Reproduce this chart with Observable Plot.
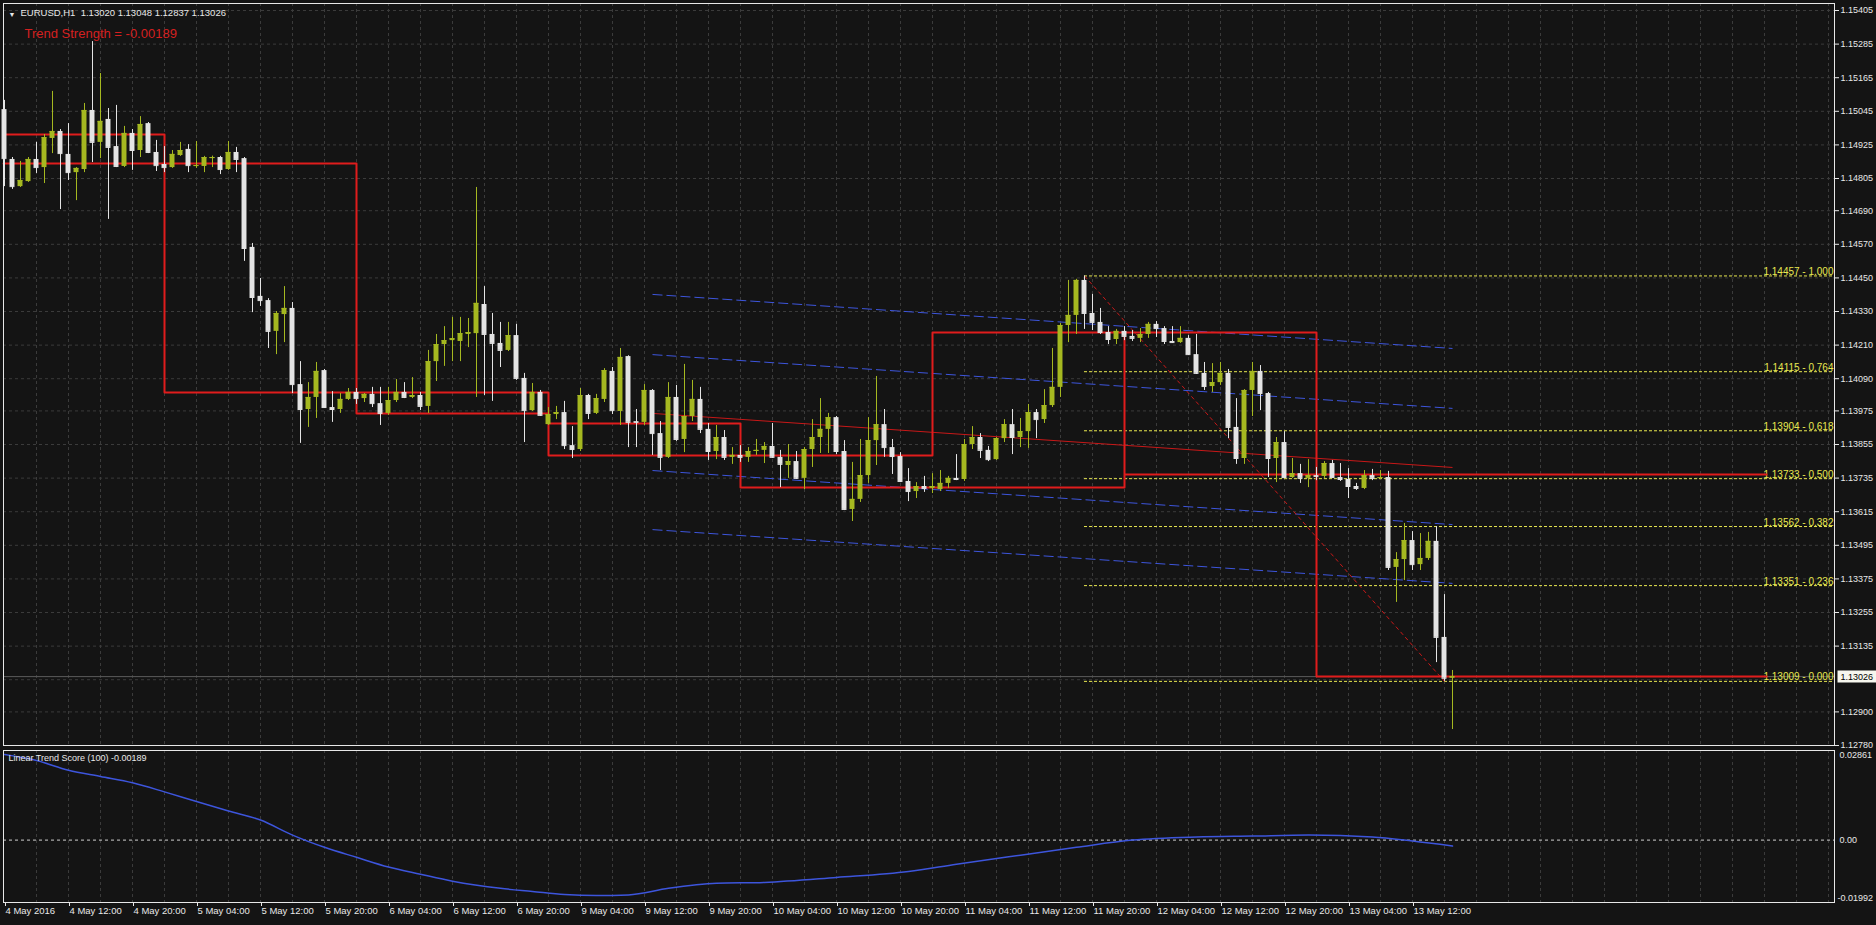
<!DOCTYPE html>
<html><head><meta charset="utf-8">
<script src="https://cdn.jsdelivr.net/npm/d3@7"></script>
<script src="https://cdn.jsdelivr.net/npm/@observablehq/plot@0.6"></script>
<style>
html,body{margin:0;padding:0;background:#141414;}
#wrap{position:relative;width:1876px;height:925px;overflow:hidden;background:#141414;}
#wrap svg{position:absolute;left:0;}
</style></head><body><div id="wrap"></div>
<script>
// ---- candle data (EURUSD H1, bar 0 = 4 May 2016 04:00) ----
const opens=[1.15051,1.14873,1.14776,1.14794,1.14873,1.14844,1.14948,1.14973,1.14891,1.14826,
1.14837,1.15048,1.14934,1.15016,1.14919,1.14848,1.14966,1.14905,1.15001,1.14898,
1.14855,1.14844,1.14887,1.14909,1.14848,1.14848,1.14876,1.14880,1.14837,1.14898,
1.14876,1.14559,1.14384,1.14369,1.14259,1.14319,1.14341,1.14069,1.13980,1.14023,
1.14119,1.13987,1.13980,1.14016,1.14041,1.14019,1.14034,1.14001,1.13966,1.14012,
1.14041,1.14023,1.14030,1.13991,1.14151,1.14212,1.14226,1.14223,1.14248,1.14251,
1.14355,1.14248,1.14216,1.14191,1.14244,1.14091,1.13976,1.14041,1.13926,1.13962,
1.13969,1.13851,1.13837,1.14030,1.13966,1.14016,1.14116,1.13973,1.14169,1.13937,
1.13934,1.14048,1.13894,1.13809,1.14023,1.13873,1.13955,1.14016,1.13909,1.13830,
1.13880,1.13809,1.13816,1.13809,1.13830,1.13834,1.13848,1.13809,1.13780,1.13794,
1.13734,1.13837,1.13880,1.13909,1.13951,1.13830,1.13623,1.13659,1.13744,1.13869,
1.13926,1.13844,1.13812,1.13723,1.13687,1.13705,1.13698,1.13694,1.13716,1.13734,
1.13730,1.13855,1.13880,1.13834,1.13801,1.13876,1.13926,1.13880,1.13901,1.13969,
1.13944,1.13994,1.14059,1.14280,1.14316,1.14441,1.14323,1.14291,1.14255,1.14230,
1.14259,1.14241,1.14234,1.14248,1.14284,1.14269,1.14223,1.14219,1.14234,1.14176,
1.14109,1.14062,1.14076,1.14109,1.13916,1.13805,1.14048,1.14116,1.14037,1.13805,
1.13862,1.13737,1.13751,1.13734,1.13744,1.13741,1.13787,1.13737,1.13730,1.13705,
1.13698,1.13744,1.13734,1.13737,1.13416,1.13444,1.13512,1.13426,1.13448,1.13509,
1.13166,1.13020];
const highs=[1.15084,1.14880,1.14866,1.14880,1.14934,1.14962,1.15116,1.14980,1.15001,1.14844,
1.15073,1.15294,1.15180,1.15055,1.15066,1.14991,1.14980,1.15026,1.15005,1.14941,
1.14919,1.14905,1.14934,1.14926,1.14937,1.14884,1.14885,1.14884,1.14937,1.14916,
1.14880,1.14573,1.14448,1.14376,1.14330,1.14419,1.14362,1.14151,1.14076,1.14148,
1.14123,1.14044,1.14037,1.14055,1.14055,1.14037,1.14059,1.14059,1.14059,1.14087,
1.14076,1.14094,1.14041,1.14191,1.14248,1.14276,1.14309,1.14309,1.14305,1.14773,
1.14419,1.14323,1.14291,1.14291,1.14284,1.14109,1.14073,1.14048,1.13987,1.13991,
1.14009,1.13919,1.14055,1.14034,1.14034,1.14126,1.14130,1.14198,1.14172,1.13980,
1.14069,1.14051,1.13937,1.14076,1.14066,1.14141,1.14084,1.14059,1.13930,1.13923,
1.13905,1.13844,1.13851,1.13844,1.13873,1.13862,1.13930,1.13834,1.13855,1.13830,
1.13844,1.13944,1.14019,1.13966,1.13955,1.13869,1.13791,1.13873,1.13951,1.14098,
1.13980,1.13873,1.13826,1.13769,1.13719,1.13741,1.13751,1.13762,1.13741,1.13819,
1.13873,1.13919,1.13894,1.13848,1.13880,1.13944,1.13980,1.13948,1.13998,1.13980,
1.14051,1.14198,1.14287,1.14441,1.14445,1.14457,1.14391,1.14341,1.14276,1.14266,
1.14276,1.14262,1.14269,1.14291,1.14294,1.14276,1.14276,1.14276,1.14244,1.14248,
1.14148,1.14144,1.14148,1.14123,1.14019,1.14051,1.14148,1.14137,1.14041,1.13880,
1.13901,1.13805,1.13784,1.13801,1.13773,1.13794,1.13798,1.13787,1.13769,1.13716,
1.13762,1.13766,1.13762,1.13759,1.13469,1.13573,1.13544,1.13537,1.13541,1.13562,
1.13319,1.13048];
const lows=[1.14776,1.14766,1.14773,1.14791,1.14823,1.14787,1.14894,1.14694,1.14798,1.14726,
1.14826,1.14862,1.14876,1.14659,1.14844,1.14844,1.14834,1.14880,1.14894,1.14830,
1.14826,1.14841,1.14884,1.14826,1.14841,1.14826,1.14844,1.14819,1.14834,1.14826,
1.14509,1.14326,1.14348,1.14198,1.14176,1.14219,1.14037,1.13859,1.13916,1.13948,
1.13984,1.13934,1.13966,1.14012,1.13998,1.14005,1.13987,1.13923,1.13959,1.14005,
1.14019,1.14019,1.13976,1.13966,1.14080,1.14134,1.14151,1.14151,1.14201,1.14023,
1.14030,1.14009,1.14130,1.14187,1.14084,1.13862,1.13973,1.13955,1.13923,1.13944,
1.13837,1.13805,1.13830,1.13944,1.13962,1.14005,1.13962,1.13923,1.13844,1.13844,
1.13923,1.13816,1.13762,1.13805,1.13866,1.13826,1.13937,1.13894,1.13798,1.13801,
1.13798,1.13784,1.13791,1.13791,1.13816,1.13787,1.13805,1.13701,1.13734,1.13730,
1.13694,1.13773,1.13823,1.13823,1.13819,1.13619,1.13580,1.13648,1.13716,1.13780,
1.13809,1.13748,1.13719,1.13651,1.13662,1.13684,1.13680,1.13687,1.13698,1.13726,
1.13723,1.13837,1.13805,1.13794,1.13798,1.13862,1.13819,1.13844,1.13841,1.13876,
1.13930,1.13987,1.14023,1.14219,1.14248,1.14266,1.14262,1.14248,1.14212,1.14212,
1.14226,1.14223,1.14219,1.14234,1.14237,1.14212,1.14216,1.14216,1.14173,1.14105,
1.14048,1.14041,1.14066,1.13876,1.13784,1.13784,1.13955,1.13976,1.13737,1.13719,
1.13734,1.13734,1.13716,1.13701,1.13726,1.13734,1.13734,1.13723,1.13662,1.13691,
1.13694,1.13726,1.13730,1.13405,1.13291,1.13369,1.13405,1.13405,1.13441,1.13076,
1.13009,1.12837];
const closes=[1.14876,1.14776,1.14798,1.14873,1.14844,1.14951,1.14973,1.14894,1.14826,1.14841,
1.15048,1.14934,1.15009,1.14916,1.14848,1.14966,1.14905,1.14998,1.14898,1.14851,
1.14844,1.14891,1.14905,1.14851,1.14851,1.14880,1.14880,1.14837,1.14898,1.14873,
1.14555,1.14380,1.14369,1.14259,1.14323,1.14341,1.14069,1.13980,1.14023,1.14116,
1.13987,1.13980,1.14016,1.14041,1.14019,1.14034,1.14001,1.13966,1.14012,1.14041,
1.14023,1.14030,1.13991,1.14151,1.14212,1.14226,1.14233,1.14251,1.14255,1.14359,
1.14248,1.14216,1.14191,1.14244,1.14091,1.13976,1.14041,1.13959,1.13962,1.13969,
1.13851,1.13837,1.14030,1.13966,1.14019,1.14119,1.13976,1.14166,1.13934,1.13934,
1.14048,1.13894,1.13809,1.14023,1.13873,1.13955,1.14016,1.13909,1.13830,1.13880,
1.13809,1.13816,1.13809,1.13830,1.13834,1.13848,1.13809,1.13784,1.13794,1.13734,
1.13837,1.13880,1.13909,1.13951,1.13830,1.13623,1.13659,1.13744,1.13869,1.13926,
1.13844,1.13812,1.13723,1.13687,1.13705,1.13698,1.13705,1.13716,1.13734,1.13730,
1.13855,1.13880,1.13834,1.13801,1.13876,1.13926,1.13880,1.13901,1.13969,1.13944,
1.13994,1.14059,1.14280,1.14316,1.14441,1.14323,1.14291,1.14255,1.14230,1.14259,
1.14241,1.14234,1.14248,1.14284,1.14269,1.14223,1.14219,1.14234,1.14176,1.14109,
1.14062,1.14076,1.14109,1.13916,1.13805,1.14048,1.14116,1.14037,1.13805,1.13862,
1.13737,1.13751,1.13734,1.13744,1.13741,1.13787,1.13737,1.13730,1.13705,1.13698,
1.13744,1.13734,1.13737,1.13416,1.13444,1.13512,1.13426,1.13448,1.13509,1.13166,
1.13020,1.13026];

// ---- axes / labels ----
const timeLabels=["4 May 2016","4 May 12:00","4 May 20:00","5 May 04:00","5 May 12:00","5 May 20:00",
"6 May 04:00","6 May 12:00","6 May 20:00","9 May 04:00","9 May 12:00","9 May 20:00","10 May 04:00",
"10 May 12:00","10 May 20:00","11 May 04:00","11 May 12:00","11 May 20:00","12 May 04:00","12 May 12:00",
"12 May 20:00","13 May 04:00","13 May 12:00"];
const priceTicks=[1.15405,1.15285,1.15165,1.15045,1.14925,1.14805,1.14690,1.14570,1.14450,1.14330,
1.14210,1.14090,1.13975,1.13855,1.13735,1.13615,1.13495,1.13375,1.13255,1.13135,1.12900,1.12780];
const hiddenTick=[1.13015];
const bidPrice=[1.13026];
const scoreAxis=[0.02861,0.00,-0.01992];

// ---- Fibonacci retracement (high bar 135 -> low bar 180) ----
const fibPrices=[1.14457,1.14115,1.13904,1.13733,1.13562,1.13351,1.13009];
const fibRatios=["1.000","0.764","0.618","0.500","0.382","0.236","0.000"];
const fibBars=[135,180];

// ---- red step levels (bar index, price) ----
const step1Bars=[-0.125,20,20,68,68,116,116,164,164,220.25];
const step1Prices=[1.14962,1.14962,1.14041,1.14041,1.13816,1.13816,1.14255,1.14255,1.13026,1.13026];
const step2Bars=[-0.125,44,44,68,68,92,92,140,140,140,220.25];
const step2Prices=[1.14859,1.14859,1.13966,1.13966,1.13930,1.13930,1.13701,1.13701,1.14251,1.13748,1.13748];

// ---- linear regression channel (bars 81..181) ----
const chanBars=[81,181];
const chanStart=[1.14391,1.14176,1.13966,1.13762,1.13551];
const chanEnd=[1.14198,1.13984,1.13773,1.13569,1.13359];
const chanKind=["band","band","mid","band","band"];

// ---- Linear Trend Score (100) ----
const scoreBars=[0,4,8,12,16,20,24,28,32,36,40,44,48,52,56,62,66,70,74,78,83,89,95,104,113,119,127,134,141,149,156,163,171,176,181];
const scoreVals=[0.0273,0.0254,0.0223,0.0203,0.0183,0.0154,0.0123,0.0093,0.0064,0.0016,-0.0023,-0.0055,-0.0086,-0.0109,-0.0131,-0.0154,-0.0164,-0.0174,-0.0177,-0.0175,-0.0154,-0.0138,-0.0135,-0.0119,-0.0100,-0.0077,-0.0048,-0.0023,0.0000,0.0010,0.0013,0.0016,0.0010,-0.0003,-0.00189];

// ---- styling ----
const FG="#e8e8e8", GRID="#3b3b3b", BULL="#a5b820", BEAR="#e4e4e4", RED="#e01c1c", BLUE="#3d55dc", FIB="#e8e850";
const FONT="'Liberation Sans', Arial, sans-serif";
const xDom=[-0.125,228.75];

const bars=opens.map((o,i)=>({i,o,h:highs[i],l:lows[i],c:closes[i],col:closes[i]>=o?BULL:BEAR}));
const fib=fibPrices.map((p,k)=>({p,r:fibRatios[k]}));
const step1=step1Bars.map((b,k)=>({b,p:step1Prices[k]}));
const step2=step2Bars.map((b,k)=>({b,p:step2Prices[k]}));
const chan=chanStart.map((s,k)=>({a:chanBars[0],b:chanBars[1],s,e:chanEnd[k],kind:chanKind[k]}));
const diag=[{a:fibBars[0],pa:fibPrices[0],b:fibBars[1],pb:fibPrices[6]}];
const score=scoreBars.map((b,k)=>({b,v:scoreVals[k]}));
const vGrid=d3.range(4,229,4);

const main=Plot.plot({
  width:1876,height:748,marginLeft:3,marginRight:42,marginTop:3,marginBottom:3,
  x:{domain:xDom,axis:null,label:null},
  y:{domain:[1.12780,1.15430],axis:null,label:null},
  color:{type:"identity"},
  style:{background:"transparent",overflow:"visible",color:FG,fontFamily:FONT,fontSize:"9px"},
  marks:[
    Plot.gridY(priceTicks.concat(hiddenTick),{stroke:GRID,strokeOpacity:1,strokeDasharray:"3,3"}),
    Plot.gridX(vGrid,{stroke:GRID,strokeOpacity:1,strokeDasharray:"3,3"}),
    Plot.ruleY(bidPrice,{stroke:"#5c5c5c"}),
    Plot.ruleY(fib,{y:"p",x1:fibBars[0],x2:xDom[1],stroke:FIB,strokeDasharray:"3,2"}),
    Plot.text(fib,{y:"p",text:d=>d.p.toFixed(5)+" - "+d.r,frameAnchor:"right",textAnchor:"end",lineAnchor:"bottom",dx:-1,dy:-1,fill:FIB,fontSize:10}),
    Plot.link(chan.filter(d=>d.kind==="band"),{x1:"a",x2:"b",y1:"s",y2:"e",stroke:BLUE,strokeDasharray:"10,4"}),
    Plot.link(chan.filter(d=>d.kind==="mid"),{x1:"a",x2:"b",y1:"s",y2:"e",stroke:"#c81818"}),
    Plot.link(diag,{x1:"a",x2:"b",y1:"pa",y2:"pb",stroke:"#c81818",strokeDasharray:"4,3"}),
    Plot.line(step1,{x:"b",y:"p",stroke:RED,strokeWidth:2}),
    Plot.line(step2,{x:"b",y:"p",stroke:RED,strokeWidth:2}),
    Plot.ruleX(bars,{x:"i",y1:"l",y2:"h",stroke:"col"}),
    Plot.rect(bars,{x1:d=>d.i-0.31,x2:d=>d.i+0.31,y1:d=>Math.min(d.o,d.c),y2:d=>Math.max(d.o,d.c),fill:"col"}),
    Plot.ruleY(bars,{x1:d=>d.i-0.31,x2:d=>d.i+0.31,y:"c",stroke:"col"}),
    Plot.frame({stroke:FG}),
    Plot.axisY({ticks:priceTicks,anchor:"right",tickSize:4,tickPadding:2,label:null,tickFormat:d=>d.toFixed(5)}),
    Plot.text(bidPrice,{y:d=>d,text:d=>d.toFixed(5),frameAnchor:"right",textAnchor:"start",dx:6,fill:"#000"}),
    Plot.text(["\u25BC"],{frameAnchor:"top-left",dx:5,dy:9,fontSize:7,fill:FG}),
    Plot.text(["EURUSD,H1\u00a0\u00a0"+[opens[181],highs[181],lows[181],closes[181]].map(v=>v.toFixed(5)).join(" ")],{frameAnchor:"top-left",dx:17,dy:9,lineAnchor:"middle",fontSize:9.5,fill:FG}),
    Plot.text(["Trend Strength = "+scoreVals[scoreVals.length-1].toFixed(5)],{frameAnchor:"top-left",dx:21,dy:30,lineAnchor:"middle",fontSize:13,fill:"#d42020"})
  ]
});

const lower=Plot.plot({
  width:1876,height:177,marginLeft:3,marginRight:42,marginTop:2,marginBottom:23,
  x:{domain:xDom,axis:null,label:null},
  y:{domain:[scoreAxis[2],scoreAxis[0]],axis:null,label:null},
  style:{background:"transparent",overflow:"visible",color:FG,fontFamily:FONT,fontSize:"9.5px"},
  marks:[
    Plot.gridX(vGrid,{stroke:GRID,strokeOpacity:1,strokeDasharray:"3,3"}),
    Plot.ruleY([scoreAxis[1]],{stroke:"#d0d0d0",strokeDasharray:"3,3"}),
    Plot.line(score,{x:"b",y:"v",stroke:BLUE,curve:"monotone-x"}),
    Plot.frame({stroke:FG}),
    Plot.axisX({ticks:timeLabels.map((t,k)=>k*8),anchor:"bottom",tickSize:4,tickPadding:1,textAnchor:"start",dx:1,label:null,tickFormat:d=>timeLabels[Math.round(d/8)]}),
    Plot.text([scoreAxis[0]],{y:d=>d,text:d=>d.toFixed(5),frameAnchor:"right",textAnchor:"start",lineAnchor:"top",dx:5,dy:1,fill:FG,fontSize:9}),
    Plot.text([scoreAxis[1]],{y:d=>d,text:d=>d.toFixed(2),frameAnchor:"right",textAnchor:"start",lineAnchor:"middle",dx:5,fill:FG,fontSize:9}),
    Plot.text([scoreAxis[2]],{y:d=>d,text:d=>d.toFixed(5),frameAnchor:"right",textAnchor:"start",lineAnchor:"bottom",dx:3,dy:-2,fill:FG,fontSize:9}),
    Plot.text(["Linear Trend Score (100) "+scoreVals[scoreVals.length-1].toFixed(5)],{frameAnchor:"top-left",dx:5,dy:4,lineAnchor:"top",fill:FG,fontSize:9})
  ]
});

const wrap=document.getElementById("wrap");
lower.style.top="748px";
main.style.top="0px";
wrap.appendChild(lower);
wrap.appendChild(main);

// background box behind the current-price label
d3.select(main).selectAll("text").filter(function(){return this.textContent===bidPrice[0].toFixed(5);}).each(function(){
  const bb=this.getBBox();
  const r=document.createElementNS("http://www.w3.org/2000/svg","rect");
  r.setAttribute("x",bb.x-3);r.setAttribute("y",bb.y-1);
  r.setAttribute("width",bb.width+8);r.setAttribute("height",bb.height+2);
  r.setAttribute("fill","#f6f6ee");
  const t=this.getAttribute("transform");
  if(t) r.setAttribute("transform",t);
  this.parentNode.insertBefore(r,this);
});
</script></body></html>
